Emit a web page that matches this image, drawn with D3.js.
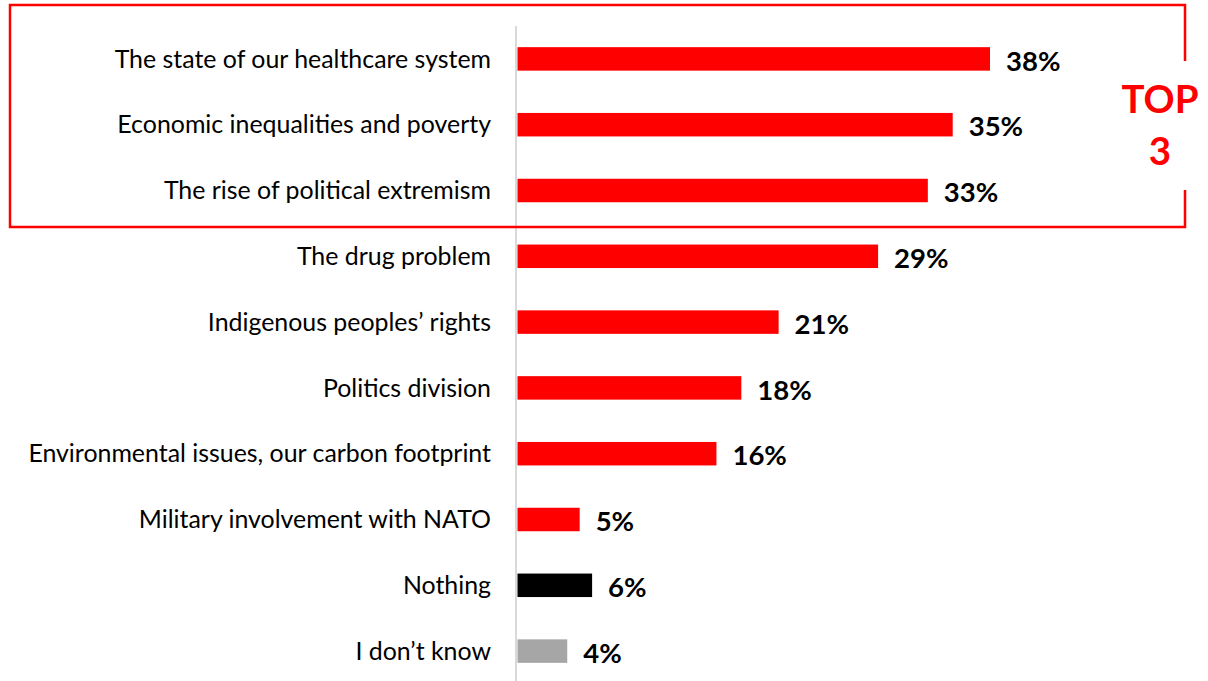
<!DOCTYPE html>
<html><head><meta charset="utf-8">
<script src="https://cdn.jsdelivr.net/npm/d3@7"></script>
<style>body{margin:0;background:#fff;}svg{display:block;}</style>
</head><body>
<svg id="chart" width="1208" height="681"></svg>
<script>
const categories = ["The state of our healthcare system","Economic inequalities and poverty","The rise of political extremism","The drug problem","Indigenous peoples’ rights","Politics division","Environmental issues, our carbon footprint","Military involvement with NATO","Nothing","I don’t know"];
const values = [38,35,33,29,21,18,16,5,6,4];
const barColors = ["#ff0000","#ff0000","#ff0000","#ff0000","#ff0000","#ff0000","#ff0000","#ff0000","#000000","#a6a6a6"];
const topLabel = ["TOP","3"];

const svg = d3.select("#chart");
const x0 = 517.5;
const x = d3.scaleLinear().domain([0,38]).range([x0, 990]);
const y = d3.scaleBand().domain(categories).range([26, 684]).paddingInner(0.643).paddingOuter(0.3215);

const font = "Lato, 'Open Sans', sans-serif";

// axis line
svg.append("line").attr("x1",516).attr("x2",516).attr("y1",26).attr("y2",681)
  .attr("stroke","#d9d9d9").attr("stroke-width",2);

const data = categories.map((c,i)=>({c, v:values[i], col:barColors[i]}));

svg.selectAll("rect.bar").data(data).join("rect").attr("class","bar")
  .attr("x", x(0)).attr("y", d=>y(d.c)).attr("width", d=>x(d.v)-x(0)).attr("height", y.bandwidth())
  .attr("fill", d=>d.col);

svg.selectAll("text.cat").data(data).join("text").attr("class","cat")
  .attr("x", 491).attr("y", d=>y(d.c)+y.bandwidth()/2).attr("dy","0.35em")
  .attr("text-anchor","end").attr("font-family",font).attr("font-size",24.9).attr("fill","#000")
  .text(d=>d.c);

svg.selectAll("text.val").data(data).join("text").attr("class","val")
  .attr("x", d=>x(d.v)+16).attr("y", d=>y(d.c)+y.bandwidth()/2+2).attr("dy","0.35em")
  .attr("font-family",font).attr("font-weight","bold").attr("font-size",27.5).attr("fill","#000")
  .text(d=>d.v+"%");

// Top 3 box
const bx1=10, by1=5, bx2=1185, by2=227;
svg.append("path")
  .attr("d",`M${bx2},61 L${bx2},${by1} L${bx1},${by1} L${bx1},${by2} L${bx2},${by2} L${bx2},190`)
  .attr("fill","none").attr("stroke","#ff0000").attr("stroke-width",2.5);

svg.selectAll("text.top").data(topLabel).join("text").attr("class","top")
  .attr("x",1160).attr("y",(d,i)=>113+i*52)
  .attr("text-anchor","middle").attr("font-family",font).attr("font-weight","bold")
  .attr("font-size",38.5).attr("fill","#ff0000").text(d=>d);
</script>
</body></html>
